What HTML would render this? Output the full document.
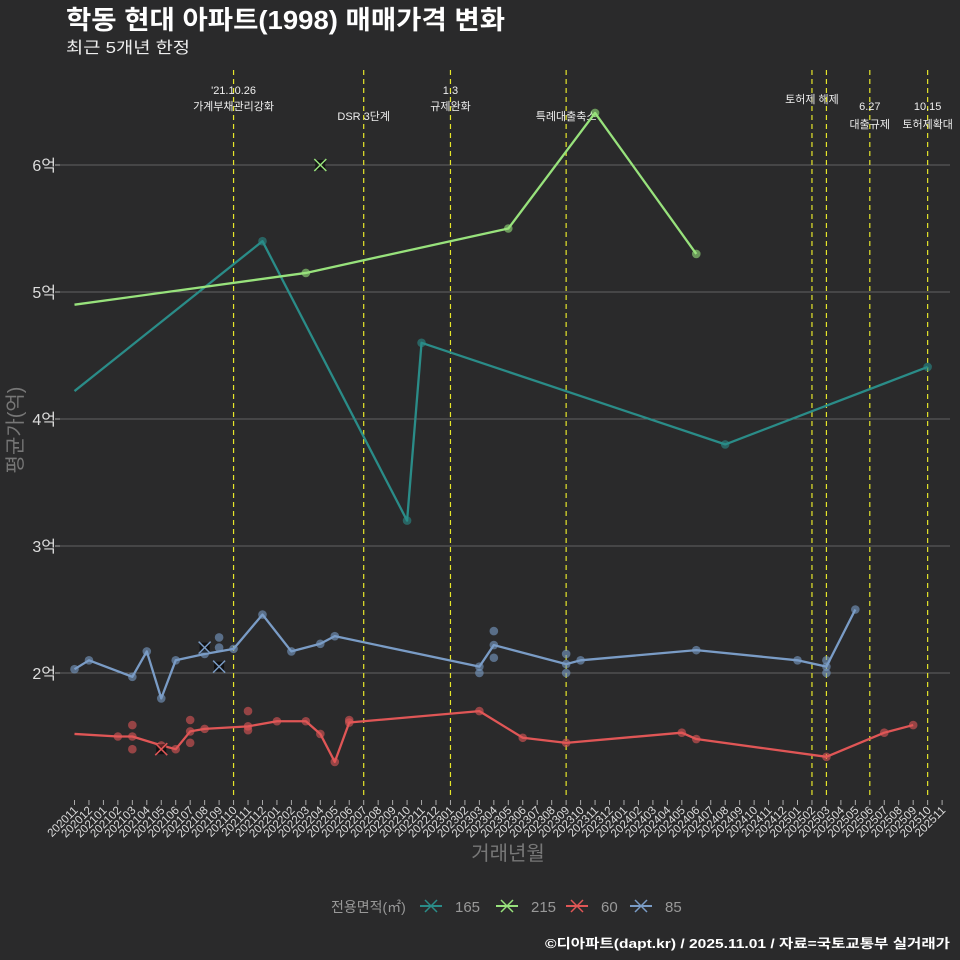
<!DOCTYPE html>
<html><head><meta charset="utf-8">
<style>
body{margin:0;background:#2a2a2b;}
svg{display:block;font-family:"Liberation Sans","Noto Sans CJK KR",sans-serif;}
</style></head>
<body>
<svg id="chart" width="960" height="960" viewBox="0 0 960 960">
<rect width="960" height="960" fill="#2a2a2b"/>
<text x="66" y="29" fill="#fff" font-size="26" font-weight="bold" textLength="439" lengthAdjust="spacingAndGlyphs">학동 현대 아파트(1998) 매매가격 변화</text>
<text x="66" y="53" fill="#eee" font-size="16" textLength="124" lengthAdjust="spacingAndGlyphs">최근 5개년 한정</text>
<g id="grid"></g><g id="vlines"></g><g id="series"></g><g id="axes"></g>
<text transform="translate(22,430) rotate(-90)" text-anchor="middle" fill="#777" font-size="20">평균가(억)</text>
<text x="508" y="860" text-anchor="middle" fill="#777" font-size="20">거래년월</text>
<g id="legend"></g>
<text x="950" y="948" text-anchor="end" fill="#fff" font-size="13" font-weight="bold" textLength="405" lengthAdjust="spacingAndGlyphs">©디아파트(dapt.kr) / 2025.11.01 / 자료=국토교통부 실거래가</text>
</svg>
<script>
const months=[];for(let y=2020,m=11;y*100+m<=202511;){months.push(''+y+(m<10?'0':'')+m);m++;if(m>12){m=1;y++;}}
const yTicks=[2,3,4,5,6];
const yTickLabels=['2억','3억','4억','5억','6억'];
const eventMonths=['202110','202207','202301','202309','202502','202503','202506','202510'];
const eventLabels=[["'21.10.26","가계부채관리강화"],["DSR 3단계"],["1.3","규제완화"],["특례대출축소"],["토허제 해제"],[],["6.27","대출규제"],["10.15","토허제확대"]];
const eventLabelY=[[94,110],[120],[94,110],[120],[103],[],[110,128],[110,128]];
const seriesNames=['165','215','60','85'];
const seriesColors=['#2a8c88','#98e27c','#e05656','#7a9cc6'];
const line165M=['202011','202112','202210','202211','202408','202510'];
const line165V=[4.22,5.40,3.20,4.60,3.80,4.41];
const line215M=['202011','202203','202305','202311','202406'];
const line215V=[4.90,5.15,5.50,6.41,5.30];
const line60M=['202011','202102','202103','202105','202106','202107','202108','202111','202201','202203','202204','202205','202206','202303','202306','202309','202405','202406','202503','202507','202509'];
const line60V=[1.52,1.50,1.50,1.43,1.40,1.54,1.56,1.58,1.62,1.62,1.52,1.30,1.61,1.70,1.49,1.45,1.53,1.48,1.34,1.53,1.59];
const line85M=['202011','202012','202103','202104','202105','202106','202108','202110','202112','202202','202204','202205','202303','202304','202309','202310','202406','202501','202503','202505'];
const line85V=[2.03,2.10,1.97,2.17,1.80,2.10,2.15,2.19,2.46,2.17,2.23,2.29,2.05,2.22,2.07,2.10,2.18,2.10,2.05,2.50];
const extra60M=['202103','202103','202107','202107','202111','202111','202206'];
const extra60V=[1.59,1.40,1.63,1.45,1.70,1.55,1.63];
const extra85M=['202109','202109','202303','202304','202304','202309','202309','202503','202503'];
const extra85V=[2.28,2.20,2.00,2.33,2.12,2.15,2.00,2.00,2.10];
const cross215M=['202204'];const cross215V=[6.0];
const cross85M=['202108','202109'];const cross85V=[2.2,2.05];
const cross60M=['202105'];const cross60V=[1.40];

const NS='http://www.w3.org/2000/svg';
const X0=74.5,DX=14.46,Y2=673,PY=127,L=60,R=950,T=70,B=795;
const xs=m=>X0+months.indexOf(m)*DX;
const ys=v=>Y2-(v-2)*PY;
function mk(tag,attrs,parent){const e=document.createElementNS(NS,tag);for(const k in attrs)e.setAttribute(k,attrs[k]);parent.appendChild(e);return e;}
const grid=document.getElementById('grid'),axes=document.getElementById('axes'),vl=document.getElementById('vlines'),sg=document.getElementById('series'),lg=document.getElementById('legend');
yTicks.forEach((v,i)=>{
 const l=mk('line',{x1:L,x2:R,y1:ys(v),y2:ys(v),stroke:'#777','stroke-width':0.8},grid);
 
 
 const tk=mk('line',{x1:L-5,x2:L,y1:ys(v),y2:ys(v),stroke:'#aaa'},axes);
 
 
 const t=mk('text',{x:L-4,y:ys(v)+6,'text-anchor':'end',fill:'#ddd','font-size':16},axes);
 t.textContent=yTickLabels[i];
 
 
});
months.forEach(m=>{
 const x=xs(m);
 const tk=mk('line',{x1:x,x2:x,y1:B+5,y2:B+10,stroke:'#aaa'},axes);
 
 
 const t=mk('text',{transform:`translate(${x+4},${B+16}) rotate(-45)`,'text-anchor':'end',fill:'#ddd','font-size':11.5},axes);
 t.textContent=m;
 
 
});
eventMonths.forEach((m,i)=>{
 const x=xs(m);
 const l=mk('line',{x1:x,x2:x,y1:T,y2:B,stroke:'#e6e62a','stroke-width':1.2,'stroke-dasharray':'5,4'},vl);
 
 
 eventLabels[i].forEach((s,j)=>{
  const t=mk('text',{x:x,y:eventLabelY[i][j],'text-anchor':'middle',fill:'#eee','font-size':11},vl);
  t.textContent=s;
  
  
 });
});
function drawLine(M,V,c,name){
 const p=mk('polyline',{points:M.map((m,i)=>xs(m)+','+ys(V[i])).join(' '),fill:'none',stroke:c,'stroke-width':2.3,'stroke-linejoin':'round'},sg);
 
 
}
function drawDots(M,V,c,name){
 M.forEach((m,i)=>{
  const d=mk('circle',{cx:xs(m),cy:ys(V[i]),r:4.3,fill:c,'fill-opacity':0.6},sg);
  
  
 });
}
function drawCross(M,V,c,name){
 M.forEach((m,i)=>{
  const x=xs(m),y=ys(V[i]);
  const g=mk('g',{},sg);
  
  
  mk('rect',{x:x-5,y:y-5,width:10,height:10,fill:'#000','fill-opacity':0.6},g);
  mk('path',{d:`M${x-6},${y-6}L${x+6},${y+6}M${x-6},${y+6}L${x+6},${y-6}`,stroke:c,'stroke-width':1.5},g);
 });
}
drawLine(line165M,line165V,seriesColors[0],'area-165');drawDots(line165M.slice(1),line165V.slice(1),seriesColors[0],'area-165');
drawLine(line215M,line215V,seriesColors[1],'area-215');drawDots(line215M.slice(1),line215V.slice(1),seriesColors[1],'area-215');
drawLine(line60M,line60V,seriesColors[2],'area-60');drawDots(line60M.slice(1),line60V.slice(1),seriesColors[2],'area-60');drawDots(extra60M,extra60V,seriesColors[2],'area-60');
drawLine(line85M,line85V,seriesColors[3],'area-85');drawDots(line85M,line85V,seriesColors[3],'area-85');drawDots(extra85M,extra85V,seriesColors[3],'area-85');
drawCross(cross215M,cross215V,seriesColors[1],'area-215');
drawCross(cross85M,cross85V,seriesColors[3],'area-85');
drawCross(cross60M,cross60V,seriesColors[2],'area-60');
const lt=mk('text',{x:331,y:912,fill:'#999','font-size':14},lg);
lt.textContent='전용면적(㎡)';


const lx=[420,496,566,630];
seriesNames.forEach((n,i)=>{
 const g=mk('g',{},lg);
 
 
 const x=lx[i],y=906,c=seriesColors[i];
 mk('line',{x1:x,x2:x+22,y1:y,y2:y,stroke:c,'stroke-width':2},g);
 mk('path',{d:`M${x+5},${y-6}L${x+17},${y+6}M${x+5},${y+6}L${x+17},${y-6}`,stroke:c,'stroke-width':1.5},g);
 const t=mk('text',{x:x+35,y:y+6,fill:'#999','font-size':15},g);
 t.textContent=n;
});
</script>
</body></html>
